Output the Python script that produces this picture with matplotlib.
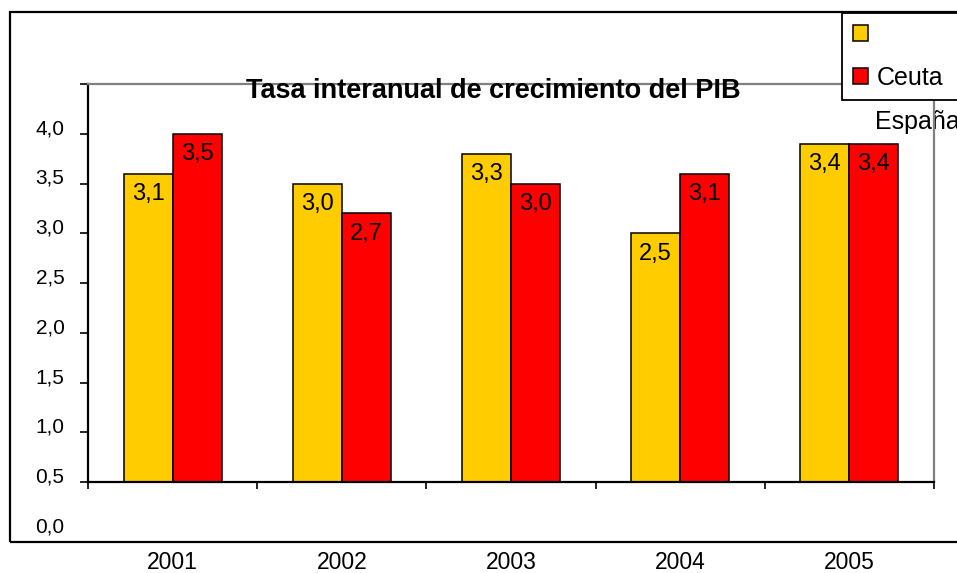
import numpy as np
import matplotlib.pyplot as plt
from matplotlib.patches import Patch, Rectangle

plt.rcParams['font.family'] = ['Liberation Sans', 'DejaVu Sans']

years = ["2001", "2002", "2003", "2004", "2005"]
espana = [3.1, 3.0, 3.3, 2.5, 3.4]
ceuta = [3.5, 2.7, 3.0, 3.1, 3.4]
# the source chart prints its axis labels one step below the gridline values
ytick_labels = ["0,0", "0,5", "1,0", "1,5", "2,0", "2,5", "3,0", "3,5", "4,0"]

W, H = 957, 573
fig = plt.figure(figsize=(W / 100, H / 100), dpi=100)


def fx(px):
    return px / W


def fy(py):
    return 1 - py / H


# outer frame of the chart object
fig.patches.append(Rectangle((fx(10), fy(542)), fx(1000), fy(12) - fy(542),
                             transform=fig.transFigure, fill=False,
                             edgecolor='black', linewidth=1.6, zorder=0))

ax = fig.add_axes([fx(88), fy(482), fx(934) - fx(88), fy(84) - fy(482)])
ax.set_facecolor('none')

x = np.arange(len(years))
w = 0.29
b1 = ax.bar(x - w / 2, espana, w, color='#FFCC00', edgecolor='black', linewidth=1.1)
b2 = ax.bar(x + w / 2, ceuta, w, color='#FF0000', edgecolor='black', linewidth=1.1)

for bars, vals in ((b1, espana), (b2, ceuta)):
    for r, v in zip(bars, vals):
        ax.annotate(f"{v:.1f}".replace('.', ','),
                    xy=(r.get_x() + r.get_width() / 2, v),
                    xytext=(0, -7), textcoords='offset points',
                    ha='center', va='top', fontsize=17)

ax.set_xlim(-0.5, len(years) - 0.5)
ax.set_ylim(0, 4)

# y axis: ticks at gridlines, labels shifted as in the original
ax.set_yticks(np.arange(0, 4.01, 0.5))
ax.set_yticklabels([])
ax.tick_params(axis='y', direction='out', length=6, width=1.2, color='black')
for i, lbl in enumerate(ytick_labels):
    ax.annotate(lbl, xy=(0, i * 0.5 - 0.5), xycoords=('axes fraction', 'data'),
                xytext=(-17, 3.6), textcoords='offset points',
                ha='right', va='center', fontsize=15, annotation_clip=False)

# x axis: year labels well below, ticks on category boundaries
ax.set_xticks(x)
ax.set_xticklabels(years, fontsize=16.5)
ax.tick_params(axis='x', which='major', length=0, pad=50)
ax.set_xticks(np.arange(-0.5, len(years)), minor=True)
ax.tick_params(axis='x', which='minor', direction='out', length=5, width=1.2)

for s in ('left', 'bottom'):
    ax.spines[s].set_color('black')
    ax.spines[s].set_linewidth(1.6)
for s in ('top', 'right'):
    ax.spines[s].set_color('#808080')
    ax.spines[s].set_linewidth(1.6)

fig.text(fx(493), fy(98), "Tasa interanual de crecimiento del PIB",
         ha='center', va='baseline', fontsize=19.5, fontweight='bold', zorder=5)

handles = [Patch(facecolor='#FFCC00', edgecolor='black', linewidth=1.1),
           Patch(facecolor='#FF0000', edgecolor='black', linewidth=1.1)]
leg = fig.legend(handles, ["", "Ceuta"], loc='upper left',
                 bbox_to_anchor=(fx(842), fy(96.7), fx(1000) - fx(842), fy(12.7) - fy(96.7)),
                 mode='expand', fontsize=18, frameon=True, fancybox=False,
                 edgecolor='black', framealpha=1, borderpad=0.42,
                 borderaxespad=0, handlelength=0.6, handleheight=0.62,
                 handletextpad=0.35, labelspacing=0.75)
leg.get_frame().set_linewidth(1.3)

ax.text(fx(875), fy(122), "España", transform=fig.transFigure,
        ha='left', va='center', fontsize=18, zorder=1)

fig.savefig("out.png", dpi=100)
